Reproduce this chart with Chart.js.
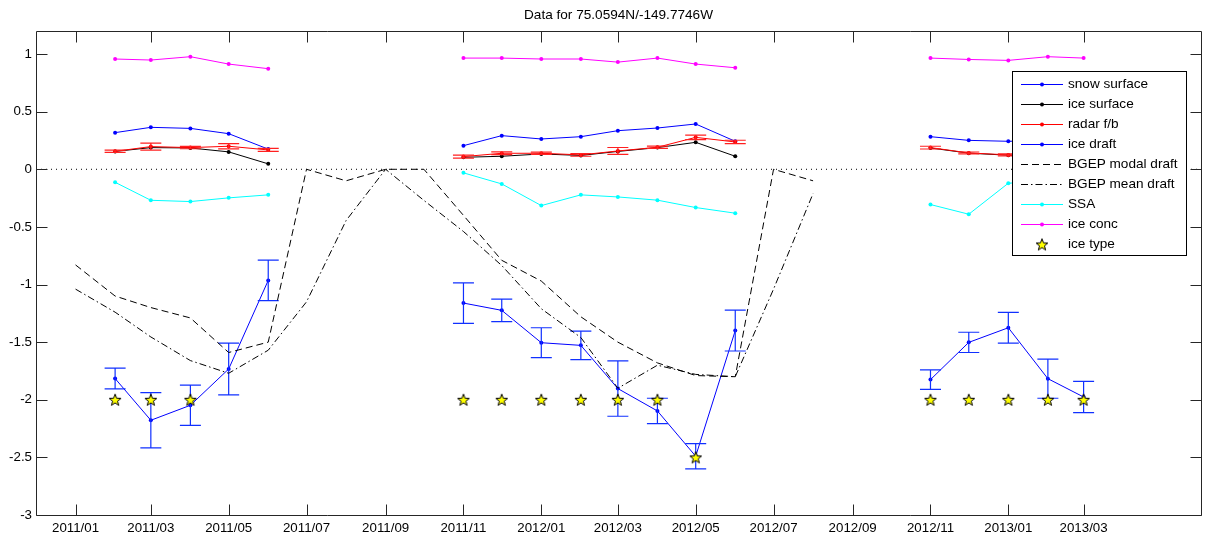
<!DOCTYPE html>
<html>
<head>
<meta charset="utf-8">
<script src="https://cdn.jsdelivr.net/npm/chart.js@4/dist/chart.umd.min.js"></script>
<style>
  html, body { margin: 0; padding: 0; background: #fff; }
  canvas { display: block; }
</style>
</head>
<body>
<canvas id="c" width="1208" height="539"></canvas>
<script>
// ---- axis range and ticks ----
const axisStart = '2010-12';
const axisEnd = '2013-06';
const xTickMonths = ['2011-01','2011-03','2011-05','2011-07','2011-09','2011-11','2012-01',
                     '2012-03','2012-05','2012-07','2012-09','2012-11','2013-01','2013-03'];
const yTicks = [-3, -2.5, -2, -1.5, -1, -0.5, 0, 0.5, 1];
const yMin = -3, yMax = 1.2;

// ---- monthly satellite / field values (null = no data) ----
const N = null;
const months = ['2011-02','2011-03','2011-04','2011-05','2011-06','2011-07','2011-08','2011-09','2011-10',
                '2011-11','2011-12','2012-01','2012-02','2012-03','2012-04','2012-05','2012-06',
                '2012-07','2012-08','2012-09','2012-10',
                '2012-11','2012-12','2013-01','2013-02','2013-03'];

const snowSurface = [0.318, 0.364, 0.355, 0.309, 0.175, N, N, N, N,
                     0.205, 0.292, 0.263, 0.283, 0.335, 0.358, 0.393, 0.243, N, N, N, N,
                     0.283, 0.251, 0.243, 0.25, 0.26];
const iceSurface  = [0.155, 0.188, 0.185, 0.151, 0.047, N, N, N, N,
                     0.104, 0.113, 0.133, 0.120, 0.155, 0.188, 0.234, 0.113, N, N, N, N,
                     0.185, 0.140, 0.122, 0.12, 0.13];
const radarFb     = [0.156, 0.197, 0.188, 0.200, 0.168, N, N, N, N,
                     0.110, 0.139, 0.139, 0.125, 0.159, 0.191, 0.277, 0.237, N, N, N, N,
                     0.188, 0.142, 0.125, 0.12, 0.13];
const radarFbErr  = [0.010, 0.030, 0.010, 0.023, 0.013, N, N, N, N,
                     0.013, 0.012, 0.010, 0.012, 0.030, 0.010, 0.020, 0.015, N, N, N, N,
                     0.012, 0.008, 0.008, 0.010, 0.010];
const iceDraft    = [-1.816, -2.178, -2.048, -1.733, -0.964, N, N, N, N,
                     -1.161, -1.224, -1.505, -1.528, -1.903, -2.097, -2.490, -1.400, N, N, N, N,
                     -1.825, -1.502, -1.375, -1.817, -1.976];
const iceDraftErr = [0.090, 0.240, 0.175, 0.225, 0.175, N, N, N, N,
                     0.176, 0.098, 0.130, 0.123, 0.240, 0.110, 0.110, 0.177, N, N, N, N,
                     0.085, 0.088, 0.134, 0.170, 0.135];
const ssa         = [-0.113, -0.269, -0.280, -0.248, -0.222, N, N, N, N,
                     -0.031, -0.127, -0.315, -0.222, -0.240, -0.268, -0.332, -0.381, N, N, N, N,
                     -0.306, -0.390, -0.121, -0.10, -0.12];
const iceConc     = [0.957, 0.948, 0.977, 0.913, 0.873, N, N, N, N,
                     0.965, 0.965, 0.957, 0.957, 0.930, 0.965, 0.913, 0.881, N, N, N, N,
                     0.965, 0.953, 0.945, 0.977, 0.965];
const iceType     = [-2, -2, -2, N, N, N, N, N, N,
                     -2, -2, -2, -2, -2, -2, -2.5, N, N, N, N, N,
                     -2, -2, -2, -2, -2];

// ---- BGEP mooring monthly drafts ----
const bgepMonths = ['2011-01','2011-02','2011-03','2011-04','2011-05','2011-06','2011-07','2011-08',
                    '2011-09','2011-10','2011-11','2011-12','2012-01','2012-02','2012-03','2012-04',
                    '2012-05','2012-06','2012-07','2012-08'];
const bgepModal = [-0.83, -1.10, -1.20, -1.29, -1.59, -1.50, 0, -0.10,
                   0, 0, -0.40, -0.79, -0.97, -1.28, -1.50, -1.68,
                   -1.79, -1.80, 0, -0.10];
const bgepMean  = [-1.04, -1.24, -1.455, -1.66, -1.77, -1.57, -1.15, -0.445,
                   0, -0.27, -0.54, -0.835, -1.21, -1.46, -1.90, -1.70,
                   -1.78, -1.80, -1.04, -0.21];

const titleText = 'Data for 75.0594N/-149.7746W';

// ---- helpers ----
const day = m => Date.UTC(+m.slice(0, 4), +m.slice(5, 7) - 1, 1) / 864e5;
const pts = (ms, vals) => ms.map((m, i) => ({ x: day(m), y: vals[i] }));
const fmtMonth = v => {
  const d = new Date(Math.round(v) * 864e5);
  return d.getUTCFullYear() + '/' + String(d.getUTCMonth() + 1).padStart(2, '0');
};
const FONT = '"Liberation Sans", Arial, sans-serif';

// filled five-point star used as the ice type marker
function makeStar(size) {
  const c = document.createElement('canvas');
  c.width = size; c.height = size;
  const g = c.getContext('2d');
  const cx = size / 2, cy = size / 2 + 0.5, R = size / 2 - 0.8, r = R * 0.42;
  g.beginPath();
  for (let k = 0; k < 10; k++) {
    const rad = k % 2 ? r : R;
    const a = -Math.PI / 2 + k * Math.PI / 5;
    const px = cx + rad * Math.cos(a), py = cy + rad * Math.sin(a);
    k ? g.lineTo(px, py) : g.moveTo(px, py);
  }
  g.closePath();
  g.fillStyle = '#ffff00';
  g.fill();
  g.lineWidth = 1;
  g.strokeStyle = '#000';
  g.stroke();
  return c;
}
const starImg = makeStar(14);

const lineDs = (label, data, color, extra) => Object.assign({
  label, data, borderColor: color, backgroundColor: color,
  borderWidth: 1, pointRadius: 2, pointHoverRadius: 2, pointBorderWidth: 0,
  pointBackgroundColor: color, tension: 0, fill: false
}, extra || {});

const datasets = [
  lineDs('zero', [{ x: day(axisStart), y: 0 }, { x: day(axisEnd), y: 0 }], '#000',
         { pointRadius: 0, borderDash: [1, 4], legendSkip: true }),
  lineDs('snow surface', pts(months, snowSurface), '#0000ff'),
  lineDs('ice surface', pts(months, iceSurface), '#000000'),
  lineDs('radar f/b', pts(months, radarFb), '#ff0000', { errorBars: radarFbErr, errorColor: '#ff2020' }),
  lineDs('ice draft', pts(months, iceDraft), '#0000ff', { errorBars: iceDraftErr, errorColor: '#1030ff' }),
  lineDs('BGEP modal draft', pts(bgepMonths, bgepModal), '#000000', { pointRadius: 0, borderDash: [7, 4] }),
  lineDs('BGEP mean draft', pts(bgepMonths, bgepMean), '#000000', { pointRadius: 0, borderDash: [7, 3, 1.5, 3] }),
  lineDs('SSA', pts(months, ssa), '#00ffff'),
  lineDs('ice conc', pts(months, iceConc), '#ff00ff'),
  lineDs('ice type', pts(months, iceType), '#000000', {
    showLine: false, pointStyle: starImg, pointRadius: 7, pointHoverRadius: 7
  })
];
// later series are painted over earlier ones
datasets.forEach((d, i) => { d.order = datasets.length - i; });

// vertical error bars with end caps, drawn right after their own series
const errorBarPlugin = {
  id: 'errorBars',
  afterDatasetDraw(chart, args) {
    const ds = args.meta.controller.getDataset();
    if (!ds || !ds.errorBars) return;
    const { ctx } = chart;
    const xs = chart.scales.x, ys = chart.scales.y;
    const cap = 10.5;
    ctx.save();
    ctx.strokeStyle = ds.errorColor || ds.borderColor;
    ctx.lineWidth = 1.2;
    ds.data.forEach((p, i) => {
      const e = ds.errorBars[i];
      if (p.y == null || e == null) return;
      const x = xs.getPixelForValue(p.x);
      const yt = ys.getPixelForValue(p.y + e);
      const yb = ys.getPixelForValue(p.y - e);
      ctx.beginPath();
      ctx.moveTo(x, yt); ctx.lineTo(x, yb);
      ctx.moveTo(x - cap, yt); ctx.lineTo(x + cap, yt);
      ctx.moveTo(x - cap, yb); ctx.lineTo(x + cap, yb);
      ctx.stroke();
    });
    ctx.restore();
  }
};

// boxed axes with inward tick marks on all four sides
const boxAxesPlugin = {
  id: 'boxAxes',
  afterDatasetsDraw(chart) {
    const { ctx, chartArea: a } = chart;
    const xs = chart.scales.x, ys = chart.scales.y;
    const L = Math.round(a.left) + 0.5, R = Math.round(a.right) + 0.5;
    const T = Math.round(a.top) + 0.5, B = Math.round(a.bottom) + 0.5;
    const tl = 11;
    ctx.save();
    ctx.strokeStyle = '#262626';
    ctx.lineWidth = 1;
    ctx.beginPath();
    ctx.rect(L, T, R - L, B - T);
    xs.ticks.forEach(t => {
      const x = Math.round(xs.getPixelForValue(t.value)) + 0.5;
      ctx.moveTo(x, B); ctx.lineTo(x, B - tl);
      ctx.moveTo(x, T); ctx.lineTo(x, T + tl);
    });
    ys.ticks.forEach(t => {
      const y = Math.round(ys.getPixelForValue(t.value)) + 0.5;
      ctx.moveTo(L, y); ctx.lineTo(L + tl, y);
      ctx.moveTo(R, y); ctx.lineTo(R - tl, y);
    });
    ctx.stroke();
    ctx.restore();
  }
};

// title and boxed legend inside the plot area
const overlayPlugin = {
  id: 'overlay',
  afterDraw(chart) {
    const { ctx, chartArea: a } = chart;
    ctx.save();
    ctx.fillStyle = '#000';
    ctx.font = '13.6px ' + FONT;
    ctx.textAlign = 'center';
    ctx.textBaseline = 'middle';
    ctx.fillText(titleText, (a.left + a.right) / 2, 15);

    const items = chart.data.datasets.filter(d => !d.legendSkip);
    const bx = 1012.5, by = 71.5, bw = 174, rowH = 20;
    const bh = items.length * rowH + 4;
    ctx.fillStyle = '#fff';
    ctx.fillRect(bx, by, bw, bh);
    ctx.strokeStyle = '#000';
    ctx.lineWidth = 1;
    ctx.strokeRect(bx, by, bw, bh);
    ctx.font = '13.6px ' + FONT;
    items.forEach((d, i) => {
      const y = Math.round(by + 12.5 + i * rowH) + 0.5;
      const x1 = 1021, x2 = 1063, xm = 1042;
      if (d.showLine !== false) {
        ctx.save();
        ctx.strokeStyle = d.borderColor;
        ctx.setLineDash(d.borderDash || []);
        ctx.beginPath();
        ctx.moveTo(x1, y); ctx.lineTo(x2, y);
        ctx.stroke();
        ctx.restore();
        if (d.pointRadius > 0) {
          ctx.fillStyle = d.borderColor;
          ctx.beginPath();
          ctx.arc(xm, y, 2, 0, Math.PI * 2);
          ctx.fill();
        }
      } else {
        ctx.drawImage(starImg, xm - 7, y - 7);
      }
      ctx.fillStyle = '#000';
      ctx.textAlign = 'left';
      ctx.textBaseline = 'middle';
      ctx.fillText(d.label, 1068, y);
    });
    ctx.restore();
  }
};

new Chart(document.getElementById('c'), {
  type: 'line',
  data: { datasets },
  options: {
    responsive: false,
    animation: false,
    events: [],
    layout: { padding: { top: 31, right: 5, left: 0, bottom: 0 } },
    plugins: { legend: { display: false }, tooltip: { enabled: false }, title: { display: false } },
    scales: {
      x: {
        type: 'linear',
        min: day(axisStart),
        max: day(axisEnd),
        afterBuildTicks: s => { s.ticks = xTickMonths.map(m => ({ value: day(m) })); },
        afterFit: s => { s.height = 24; },
        grid: { display: false, drawTicks: false },
        border: { display: false },
        ticks: {
          autoSkip: false, maxRotation: 0, padding: 5,
          color: '#000', font: { family: FONT, size: 13.3 },
          callback: v => fmtMonth(v)
        }
      },
      y: {
        type: 'linear',
        min: yMin,
        max: yMax,
        afterBuildTicks: s => { s.ticks = yTicks.map(v => ({ value: v })); },
        afterFit: s => { s.width = 36; },
        grid: { display: false, drawTicks: false },
        border: { display: false },
        ticks: {
          padding: 4, color: '#000', font: { family: FONT, size: 13.3 },
          callback: v => String(v)
        }
      }
    }
  },
  plugins: [errorBarPlugin, boxAxesPlugin, overlayPlugin]
});
</script>
</body>
</html>
